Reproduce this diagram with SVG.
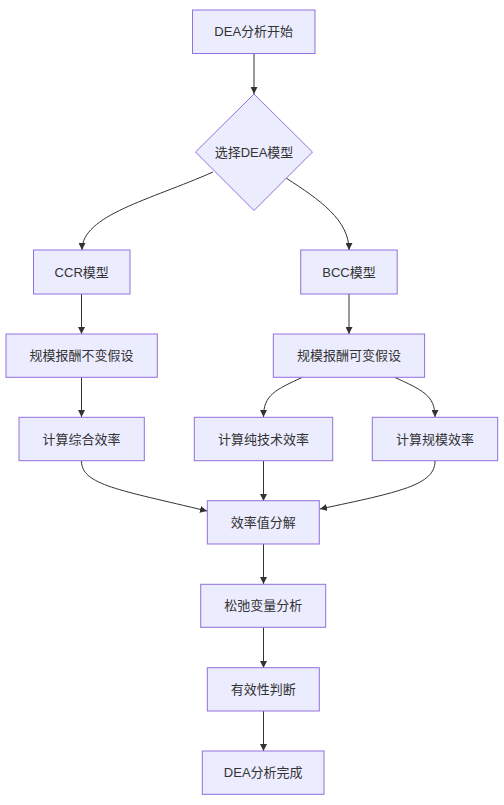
<svg xmlns="http://www.w3.org/2000/svg" width="504" height="805" viewBox="0 0 504 805">
<style>
.node rect,.node polygon{fill:#ECECFF;stroke:#9370DB;stroke-width:1}
.node text{font-family:"Liberation Sans","Noto Sans CJK SC",sans-serif;font-size:13px;fill:#333;text-anchor:middle;dominant-baseline:central}
.edges path{fill:none;stroke:#333;stroke-width:1;marker-end:url(#arrow)}
</style>
<defs>
<marker id="arrow" viewBox="0 0 10 10" refX="10" refY="5" markerUnits="userSpaceOnUse" markerWidth="7" markerHeight="7" orient="auto">
<path d="M0,0 L10,5 L0,10 z" fill="#333"/>
</marker>
</defs>
<rect width="504" height="805" fill="#fff"/>
<g class="edges">
<path d="M254,53 L254,94"/>
<path d="M213,172 C150,200 82,215 82,250"/>
<path d="M286,178 C320,200 349,220 349,250"/>
<path d="M81.5,294 L81.5,334"/>
<path d="M81.5,377 L81.5,417"/>
<path d="M349,294 L349,334"/>
<path d="M303,377 C275,390 263.5,395 263.5,417"/>
<path d="M394,377 C422,390 435,395 435,417"/>
<path d="M81.5,461 C81.5,485 120,490 207,511"/>
<path d="M263.5,461 L263.5,501"/>
<path d="M435,461 C435,485 400,492 320,509"/>
<path d="M263.5,544 L263.5,584"/>
<path d="M263.5,627 L263.5,668"/>
<path d="M263.5,711 L263.5,751"/>
</g>
<g id="start" class="node"><rect x="192.5" y="10" width="122.5" height="43.5"/><text x="253.7" y="31.7">DEA分析开始</text></g>
<g id="choose" class="node"><polygon points="254,94 312.5,152 254,210.5 195.5,152"/><text x="254" y="152">选择DEA模型</text></g>
<g id="ccr" class="node"><rect x="33.5" y="250" width="96.5" height="44"/><text x="81.7" y="272">CCR模型</text></g>
<g id="bcc" class="node"><rect x="300.7" y="250" width="96.5" height="44"/><text x="349" y="272">BCC模型</text></g>
<g id="crs" class="node"><rect x="6" y="334" width="151.3" height="43.3"/><text x="81.6" y="355.6">规模报酬不变假设</text></g>
<g id="vrs" class="node"><rect x="273.3" y="334" width="151.3" height="43.3"/><text x="349" y="355.6">规模报酬可变假设</text></g>
<g id="te" class="node"><rect x="19" y="417.3" width="125.3" height="43.4"/><text x="81.6" y="439">计算综合效率</text></g>
<g id="pte" class="node"><rect x="194.3" y="417.3" width="138.4" height="43.4"/><text x="263.5" y="439">计算纯技术效率</text></g>
<g id="se" class="node"><rect x="372.3" y="417.3" width="125.4" height="43.4"/><text x="435" y="439">计算规模效率</text></g>
<g id="decomp" class="node"><rect x="207.3" y="500.7" width="112" height="43.3"/><text x="263.3" y="522.3">效率值分解</text></g>
<g id="slack" class="node"><rect x="200.7" y="584.3" width="125" height="43"/><text x="263.2" y="605.8">松弛变量分析</text></g>
<g id="valid" class="node"><rect x="207.3" y="667.7" width="112" height="43.3"/><text x="263.3" y="689.3">有效性判断</text></g>
<g id="end" class="node"><rect x="202.3" y="751" width="121.7" height="43.3"/><text x="263.2" y="772.6">DEA分析完成</text></g>
</svg>
